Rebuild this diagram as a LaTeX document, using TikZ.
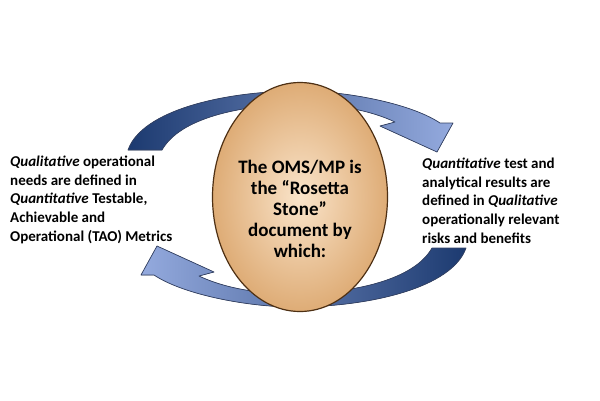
\documentclass[tikz,border=0pt]{standalone}
\usepackage{fontspec}
\setmainfont{Carlito}
\usetikzlibrary{shapes.geometric}

\definecolor{navy}{RGB}{28,58,112}
\definecolor{periwinkle}{RGB}{148,170,222}
\definecolor{arrowedge}{RGB}{52,66,100}
\definecolor{stonelight}{RGB}{250,228,202}
\definecolor{stonedark}{RGB}{222,172,118}
\definecolor{stoneedge}{RGB}{78,48,20}

\begin{document}
\begin{tikzpicture}[x=1pt,y=-1pt]

% Define styles
\tikzstyle{band}=[draw=arrowedge, line width=0.7pt, line join=round]
\tikzstyle{stone}=[ellipse, draw=stoneedge, line width=1.2pt, inner color=stonelight, outer color=stonedark, minimum width=175pt, minimum height=229pt, inner sep=0pt]
\tikzstyle{sidetext}=[font=\bfseries\fontsize{15}{18.6}\selectfont, align=left, inner sep=0pt, anchor=north west]
\tikzstyle{stonetext}=[font=\bfseries\fontsize{19}{21}\selectfont, align=center, inner sep=0pt]

\useasboundingbox[fill=white] (0,0) rectangle (600,400);

% Upper arrow (left to right)
\fill[band, left color=navy, right color=periwinkle]
  (128,150) .. controls (142,110) and (225,91) .. (300,91)
  .. controls (345,91) and (410,103) .. (440,123)
  -- (453,123) -- (437,152) -- (380,126) -- (395,122)
  .. controls (370,110) and (335,104) .. (300,104)
  .. controls (240,105) and (180,118) .. (162,150) -- cycle;

% Lower arrow (right to left)
\fill[band, left color=periwinkle, right color=navy]
  (466,248) .. controls (452,288) and (369,307) .. (294,307)
  .. controls (249,307) and (184,295) .. (154,275)
  -- (141,275) -- (157,246) -- (214,272) -- (199,276)
  .. controls (224,288) and (259,294) .. (294,294)
  .. controls (354,293) and (414,280) .. (432,248) -- cycle;

% Rosetta stone
\node[stone] (oms) at (300,197) {};
\node[stonetext] (omstext) at (300,209) {The OMS/MP is\\the “Rosetta\\Stone”\\document by\\which:};

% Side texts
\node[sidetext] (qual) at (10,156) {\textit{Qualitative} operational\\needs are defined in\\\textit{Quantitative} Testable,\\Achievable and\\Operational (TAO) Metrics};
\node[sidetext] (quant) at (422,158) {\textit{Quantitative} test and\\analytical results are\\defined in \textit{Qualitative}\\operationally relevant\\risks and benefits};

\end{tikzpicture}
\end{document}
